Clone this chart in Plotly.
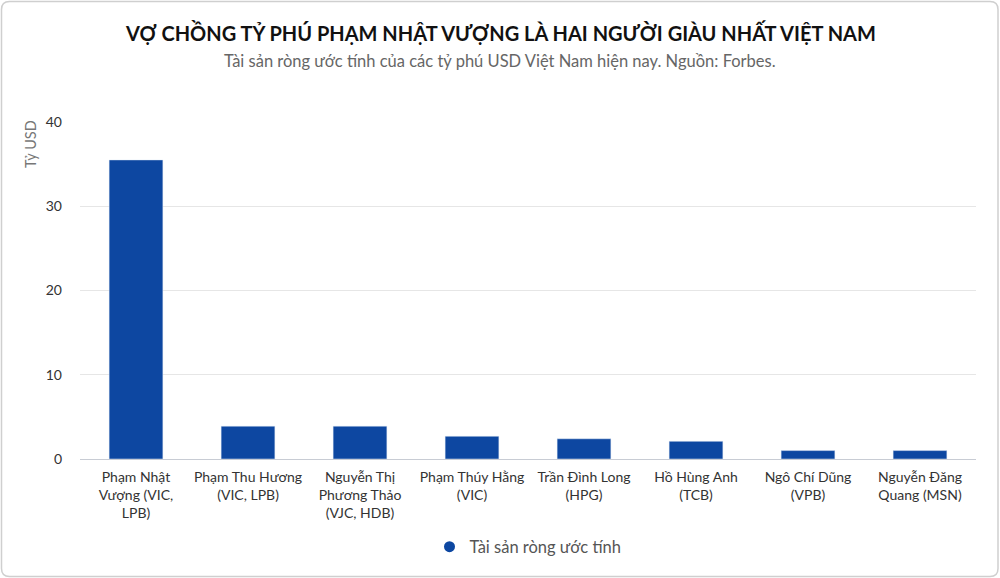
import plotly.graph_objects as go

# Dữ liệu: tài sản ròng ước tính (tỷ USD), nguồn Forbes
names = [
    "Phạm Nhật<br>Vượng (VIC,<br>LPB)",
    "Phạm Thu Hương<br>(VIC, LPB)",
    "Nguyễn Thị<br>Phương Thảo<br>(VJC, HDB)",
    "Phạm Thúy Hằng<br>(VIC)",
    "Trần Đình Long<br>(HPG)",
    "Hồ Hùng Anh<br>(TCB)",
    "Ngô Chí Dũng<br>(VPB)",
    "Nguyễn Đăng<br>Quang (MSN)",
]
net_worth = [35.5, 3.9, 3.9, 2.7, 2.4, 2.1, 1.0, 1.0]
y_ticks = [0, 10, 20, 30, 40]
series_name = "Tài sản ròng ước tính"

bar_clr = "#0d47a1"
font_fam = "Lato, 'Open Sans', sans-serif"

W, H = 1000, 578
ml, mr, mt, mb = 80, 24, 122, 119

fig = go.Figure()
fig.add_trace(go.Bar(x=names, y=net_worth, marker=dict(color=bar_clr),
                     width=0.48, showlegend=False, name=series_name))
# dummy trace just for the round legend marker
fig.add_trace(go.Scatter(x=[names[0]], y=[None], mode="markers", name=series_name,
                         marker=dict(color=bar_clr, size=11, symbol="circle")))

# rounded border around the whole card (paper coords extend past plot area)
pw, ph = W - ml - mr, H - mt - mb
def px2paper(x, y):
    return (x - ml) / pw, (H - mb - y) / ph
x0, y0 = px2paper(1.5, 1.5)
x1, y1 = px2paper(998, 576.5)
rx, ry = 8 / pw, 8 / ph
path = (f"M {x0+rx},{y0} L {x1-rx},{y0} Q {x1},{y0} {x1},{y0-ry} "
        f"L {x1},{y1+ry} Q {x1},{y1} {x1-rx},{y1} L {x0+rx},{y1} "
        f"Q {x0},{y1} {x0},{y1+ry} L {x0},{y0-ry} Q {x0},{y0} {x0+rx},{y0} Z")
fig.add_shape(type="path", path=path, xref="paper", yref="paper",
              line=dict(color="#cfcfcf", width=1.5), layer="below")

fig.add_annotation(text="<b>VỢ CHỒNG TỶ PHÚ PHẠM NHẬT VƯỢNG LÀ HAI NGƯỜI GIÀU NHẤT VIỆT NAM</b>",
                   xref="paper", yref="paper", x=(500 - ml) / pw, y=px2paper(0, 32)[1],
                   xanchor="center", yanchor="middle", showarrow=False,
                   font=dict(size=20, color="#111111", family=font_fam))
fig.add_annotation(text="Tài sản ròng ước tính của các tỷ phú USD Việt Nam hiện nay. Nguồn: Forbes.",
                   xref="paper", yref="paper", x=(500 - ml) / pw, y=px2paper(0, 61)[1],
                   xanchor="center", yanchor="middle", showarrow=False,
                   font=dict(size=16.5, color="#666666", family=font_fam))
fig.add_annotation(text="Tỷ USD", textangle=-90, xref="paper", yref="paper",
                   x=px2paper(30, 0)[0], y=px2paper(0, 118)[1], xanchor="center", yanchor="top",
                   showarrow=False, font=dict(size=14.5, color="#777777", family=font_fam))

fig.update_layout(
    width=W, height=H,
    margin=dict(l=ml, r=mr, t=mt, b=mb),
    paper_bgcolor="white", plot_bgcolor="white",
    font=dict(family=font_fam, size=14, color="#333333"),
    bargap=0.52,
    legend=dict(orientation="h", x=0.5, xanchor="center",
                y=px2paper(0, 547)[1], yanchor="middle",
                font=dict(size=16.5, color="#555555")),
)
fig.update_xaxes(showgrid=False, showline=False, ticks="", ticklabelstandoff=8,
                 tickfont=dict(size=14, color="#333333"))
fig.update_yaxes(range=[0, 40], tickvals=y_ticks, showgrid=True, gridcolor="#e6e6e6",
                 zeroline=True, zerolinecolor="#c8ccd4", zerolinewidth=1,
                 ticks="", ticklabelstandoff=17, tickfont=dict(size=14, color="#333333"))

# body has an 8px default margin in the browser; drop it so the card fills the window
fig.write_html("out.html", config={"displayModeBar": False},
               post_script="document.body.style.margin='0';")
